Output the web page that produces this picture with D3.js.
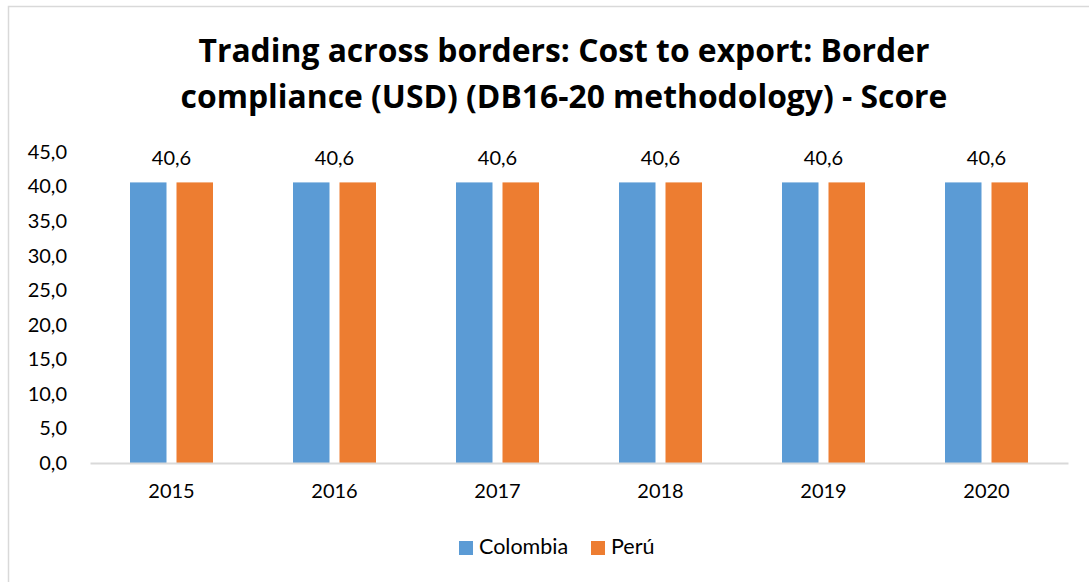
<!DOCTYPE html>
<html>
<head>
<meta charset="utf-8">
<script src="https://cdn.jsdelivr.net/npm/d3@7"></script>
<style>
  html, body { margin: 0; padding: 0; background: #ffffff; }
  svg { display: block; }
  text { font-family: Lato, "Open Sans", sans-serif; fill: #000000; }
</style>
</head>
<body>
<svg id="chart" width="1089" height="582"></svg>
<script>
// Chart data
const years = ["2015", "2016", "2017", "2018", "2019", "2020"];
const seriesNames = ["Colombia", "Perú"];
const colombia = [40.6, 40.6, 40.6, 40.6, 40.6, 40.6];
const peru = [40.6, 40.6, 40.6, 40.6, 40.6, 40.6];
const yTicks = [0, 5, 10, 15, 20, 25, 30, 35, 40, 45];
const titleLines = [
  "Trading across borders: Cost to export: Border",
  "compliance (USD) (DB16-20 methodology) - Score"
];
const colors = ["#5B9BD5", "#ED7D31"];

const seriesValues = [colombia, peru];
const rows = years.map((y, i) => ({ year: y, values: seriesValues.map(s => s[i]) }));

const svg = d3.select("#chart");
const W = 1089, H = 582;

// Outer chart frame
svg.append("rect")
  .attr("x", 8.5).attr("y", 6.5)
  .attr("width", W + 20).attr("height", H + 20)
  .attr("fill", "#ffffff")
  .attr("stroke", "#d9d9d9").attr("stroke-width", 1.5);

// Title: two centred bold lines, sized so the first line spans ~731px
const title = svg.append("text")
  .attr("text-anchor", "middle")
  .style("font-family", "'Open Sans', sans-serif")
  .style("font-size", "30px")
  .style("font-weight", "bold");
titleLines.forEach((t, i) => {
  title.append("tspan").attr("x", 564).attr("y", 62 + i * 46).text(t);
});
const firstLen = title.select("tspan").node().getComputedTextLength();
title.style("font-size", (30 * 731 / firstLen).toFixed(2) + "px");

// Plot area
const plot = { left: 90, right: 1068, top: 152, bottom: 463 };

const x0 = d3.scaleBand()
  .domain(years)
  .range([plot.left, plot.right])
  .padding(0);

const groupHalf = 41.5;
const x1 = d3.scaleBand()
  .domain(seriesNames)
  .range([x0.bandwidth() / 2 - groupHalf, x0.bandwidth() / 2 + groupHalf])
  .paddingInner(0.215);

const y = d3.scaleLinear()
  .domain([0, 45])
  .range([plot.bottom, plot.top]);

// Y axis (labels only)
const yAxis = svg.append("g")
  .attr("transform", `translate(${plot.left - 23},0)`)
  .call(d3.axisLeft(y).tickValues(yTicks).tickSize(0).tickPadding(0)
    .tickFormat(d => d3.format(".1f")(d).replace(".", ",")));
yAxis.select(".domain").remove();
yAxis.selectAll("text")
  .style("font-size", "20px")
  .style("font-family", "Lato, sans-serif")
  .attr("fill", "#000");

// Bars
const groups = svg.append("g").selectAll("g")
  .data(rows)
  .join("g")
  .attr("transform", d => `translate(${x0(d.year)},0)`);

groups.selectAll("rect")
  .data(d => d.values.map((v, i) => ({ name: seriesNames[i], value: v, idx: i })))
  .join("rect")
  .attr("x", d => x1(d.name))
  .attr("width", x1.bandwidth())
  .attr("y", d => y(d.value))
  .attr("height", d => y(0) - y(d.value))
  .attr("fill", d => colors[d.idx]);

// Value labels above each group
groups.append("text")
  .attr("x", x0.bandwidth() / 2)
  .attr("y", d => y(d3.max(d.values)) - 17)
  .attr("text-anchor", "middle")
  .style("font-size", "20px")
  .text(d => d3.format(".1f")(d3.max(d.values)).replace(".", ","));

// X axis
const xAxis = svg.append("g")
  .attr("transform", `translate(0,${plot.bottom})`)
  .call(d3.axisBottom(x0).tickSize(0).tickPadding(21));
xAxis.select(".domain")
  .attr("stroke", "#d9d9d9").attr("stroke-width", 2);
xAxis.selectAll("text")
  .style("font-size", "20px")
  .style("font-family", "Lato, sans-serif")
  .attr("fill", "#000");

// Legend
const legendItems = [
  { name: seriesNames[0], color: colors[0], x: 459 },
  { name: seriesNames[1], color: colors[1], x: 591 }
];
const legend = svg.append("g");
legendItems.forEach(item => {
  legend.append("rect")
    .attr("x", item.x).attr("y", 541)
    .attr("width", 14).attr("height", 14)
    .attr("fill", item.color);
  legend.append("text")
    .attr("x", item.x + 20).attr("y", 554)
    .style("font-size", "21.5px")
    .text(item.name);
});
</script>
</body>
</html>
